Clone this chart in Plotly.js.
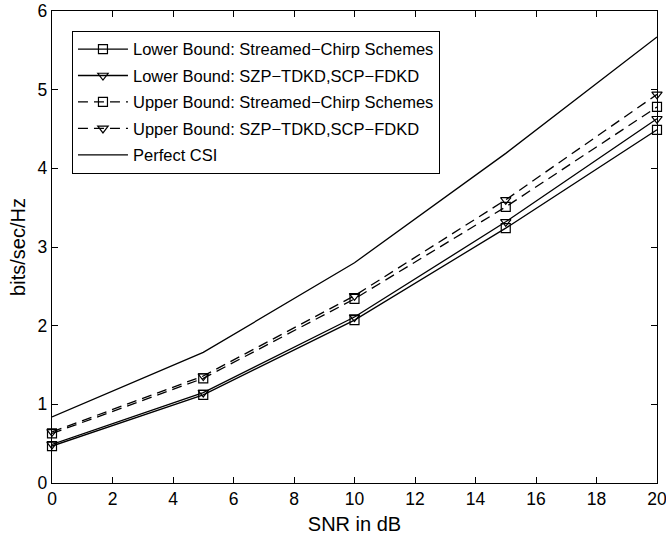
<!DOCTYPE html>
<html>
<head>
<meta charset="utf-8">
<script src="https://cdn.plot.ly/plotly-3.0.1.min.js"></script>
<style>html,body{margin:0;padding:0;background:#fff;}#chart{width:666px;height:540px;}</style>
</head>
<body>
<div id="chart"></div>
<script>
const snr = [0, 5, 10, 15, 20];
const lowerChirp = [0.47, 1.12, 2.07, 3.24, 4.49];
const lowerSZP = [0.49, 1.15, 2.11, 3.32, 4.63];
const upperChirp = [0.63, 1.33, 2.34, 3.51, 4.78];
const upperSZP = [0.65, 1.36, 2.38, 3.60, 4.94];
const perfectCSI = [0.84, 1.66, 2.80, 4.19, 5.67];

const names = [
  'Lower Bound: Streamed\u2212Chirp Schemes',
  'Lower Bound: SZP\u2212TDKD,SCP\u2212FDKD',
  'Upper Bound: Streamed\u2212Chirp Schemes',
  'Upper Bound: SZP\u2212TDKD,SCP\u2212FDKD',
  'Perfect CSI'
];

function tr(y, name, dash, symbol, grp) {
  const t = {
    x: snr, y: y, name: name, type: 'scatter', legendgroup: grp,
    mode: symbol ? 'lines+markers' : 'lines',
    line: {color: '#000', width: 1.3, dash: dash},
    cliponaxis: false
  };
  if (symbol) {
    t.marker = {symbol: symbol, size: 9, color: '#000', line: {color: '#000', width: 1.2}};
  }
  return t;
}

const data = [
  tr(lowerChirp, names[0], 'solid', 'square-open', 'a'),
  tr(lowerSZP, names[1], 'solid', 'triangle-down-open', 'b'),
  tr(upperChirp, names[2], '10px,6px', 'square-open', 'c'),
  tr(upperSZP, names[3], '10px,6px', 'triangle-down-open', 'd'),
  tr(perfectCSI, names[4], 'solid', null, 'e')
];

const font = {family: 'Liberation Sans, Arial, sans-serif', color: '#000'};

const layout = {
  width: 666, height: 540,
  margin: {l: 52, r: 9, t: 11, b: 57},
  paper_bgcolor: '#fff', plot_bgcolor: '#fff',
  font: Object.assign({size: 17}, font),
  showlegend: true,
  legend: {
    x: 0.033, y: 0.958, xanchor: 'left', yanchor: 'top',
    bordercolor: '#000', borderwidth: 1, bgcolor: '#fff',
    font: Object.assign({size: 16.5}, font),
    traceorder: 'grouped', tracegroupgap: 2, itemwidth: 50
  },
  xaxis: {
    range: [0, 20], tickvals: [0, 2, 4, 6, 8, 10, 12, 14, 16, 18, 20],
    ticks: 'inside', ticklen: 6, tickcolor: '#000', tickwidth: 1,
    showline: true, linecolor: '#000', linewidth: 1.3, mirror: 'ticks',
    showgrid: false, zeroline: false, ticklabeloverflow: 'allow',
    tickfont: Object.assign({size: 17.5}, font),
    title: {text: 'SNR in dB', font: Object.assign({size: 20}, font), standoff: 8}
  },
  yaxis: {
    range: [0, 6], tickvals: [0, 1, 2, 3, 4, 5, 6],
    ticks: 'inside', ticklen: 6, tickcolor: '#000', tickwidth: 1,
    showline: true, linecolor: '#000', linewidth: 1.3, mirror: 'ticks',
    showgrid: false, zeroline: false,
    tickfont: Object.assign({size: 17.5}, font),
    title: {text: 'bits/sec/Hz', font: Object.assign({size: 20}, font), standoff: 6}
  }
};

Plotly.newPlot('chart', data, layout, {displayModeBar: false, staticPlot: true});
</script>
</body>
</html>
